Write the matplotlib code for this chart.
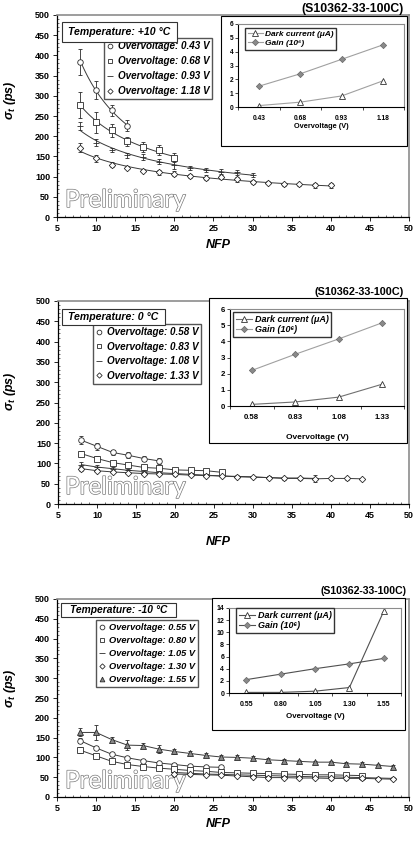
import numpy as np
import matplotlib.pyplot as plt
import matplotlib.patheffects as pe
from matplotlib.patches import Rectangle
from matplotlib.lines import Line2D
from matplotlib.ticker import MultipleLocator

plt.rcParams['font.family'] = ['Liberation Sans', 'DejaVu Sans']
plt.rcParams['mathtext.fontset'] = 'custom'
plt.rcParams['mathtext.it'] = 'Liberation Sans:italic:bold'
plt.rcParams['mathtext.rm'] = 'Liberation Sans:bold'

W, H = 415, 842   # figure size in pixels

# ---------------- +10 C ----------------
nfp_p10_043 = np.arange(8, 16, 2)
sig_p10_043 = [384, 314, 264, 226]
err_p10_043 = [32, 22, 14, 13]
nfp_p10_068 = np.arange(8, 22, 2)
sig_p10_068 = [277, 234, 215, 187, 173, 165, 147]
err_p10_068 = [32, 25, 16, 12, 13, 12, 12]
nfp_p10_093 = np.arange(8, 32, 2)
sig_p10_093 = [226, 184, 166, 153, 149, 137, 128, 121, 117, 112, 111, 104]
err_p10_093 = [10, 8, 6, 6, 8, 6, 10, 5, 5, 6, 6, 6]
nfp_p10_118 = np.arange(8, 42, 2)
sig_p10_118 = [172, 145, 129, 122, 115, 111, 107, 102, 97, 98, 93, 87, 85, 81, 81, 78, 78]
err_p10_118 = [10, 8, 6, 4, 4, 6, 6, 5, 6, 5, 6, 5, 4, 4, 4, 5, 6]
ov_p10 = ['0.43', '0.68', '0.93', '1.18']
dark_p10 = [0.1, 0.35, 0.8, 1.9]
gain_p10 = [1.5, 2.4, 3.45, 4.5]

# ---------------- 0 C ----------------
nfp_0_058 = np.arange(8, 20, 2)
sig_0_058 = [157, 142, 127, 120, 112, 106]
err_0_058 = [10, 9, 7, 7, 7, 7]
nfp_0_083 = np.arange(8, 28, 2)
sig_0_083 = [124, 112, 102, 96, 90, 88, 84, 83, 82, 78]
err_0_083 = [6, 5, 5, 4, 4, 5, 4, 4, 4, 4]
nfp_0_108 = np.arange(8, 40, 2)
sig_0_108 = [97, 91, 87, 83, 80, 77, 75, 73, 71, 69, 68, 67, 65, 64, 64, 63]
err_0_108 = [7, 5, 4, 4, 4, 3, 3, 3, 3, 3, 3, 3, 3, 3, 3, 8]
nfp_0_133 = np.arange(8, 46, 2)
sig_0_133 = [87, 82, 79, 77, 75, 74, 73, 71, 70, 69, 67, 66, 65, 63, 63, 62, 63, 63, 62]
err_0_133 = [6, 4, 3, 3, 3, 3, 3, 3, 3, 3, 3, 3, 3, 3, 3, 3, 3, 3, 3]
ov_0 = ['0.58', '0.83', '1.08', '1.33']
dark_0 = [0.1, 0.25, 0.55, 1.35]
gain_0 = [2.2, 3.2, 4.15, 5.15]

# ---------------- -10 C ----------------
nfp_m10_055 = np.arange(8, 28, 2)
sig_m10_055 = [142, 124, 108, 99, 92, 86, 82, 78, 76, 75]
err_m10_055 = [6, 4, 3, 3, 3, 3, 3, 3, 3, 3]
nfp_m10_080 = np.arange(8, 46, 2)
sig_m10_080 = [118, 104, 90, 82, 77, 73, 70, 67, 65, 62, 61, 60, 59, 58, 57, 56, 56, 55, 54]
err_m10_080 = [8, 4, 3, 3, 3, 3, 3, 3, 3, 3, 3, 3, 3, 3, 3, 3, 3, 3, 3]
nfp_m10_105 = np.arange(20, 50, 2)
sig_m10_105 = [62, 60, 58, 57, 56, 55, 54, 53, 52, 51, 51, 50, 49, 48, 47]
err_m10_105 = [8, 3, 3, 3, 3, 3, 3, 3, 3, 3, 3, 3, 3, 3, 3]
nfp_m10_130 = np.arange(20, 50, 2)
sig_m10_130 = [58, 57, 56, 55, 53, 51, 49, 49, 48, 48, 47, 47, 47, 46, 45]
err_m10_130 = [3, 3, 3, 3, 3, 3, 3, 3, 3, 3, 3, 3, 3, 3, 3]
nfp_m10_155 = np.arange(8, 50, 2)
sig_m10_155 = [163, 163, 145, 131, 130, 121, 115, 110, 105, 101, 100, 98, 94, 92, 90, 88, 88, 84, 83, 80, 77]
err_m10_155 = [10, 18, 6, 12, 6, 10, 6, 5, 5, 5, 5, 5, 4, 4, 4, 4, 4, 5, 5, 4, 4]
ov_m10 = ['0.55', '0.80', '1.05', '1.30', '1.55']
dark_m10 = [0.1, 0.1, 0.3, 0.9, 13.5]
gain_m10 = [2.2, 3.1, 4.0, 4.8, 5.7]


fig = plt.figure(figsize=(W / 100, H / 100), dpi=100)


def px_box(l, t, r, b):
    return [l / W, 1 - b / H, (r - l) / W, (b - t) / H]


def main_axes(l, t, r, b):
    ax = fig.add_axes(px_box(l, t, r, b))
    ax.set_xlim(5, 50)
    ax.set_ylim(0, 500)
    ax.set_xticks(range(5, 55, 5))
    ax.set_yticks(range(0, 550, 50))
    ax.xaxis.set_minor_locator(MultipleLocator(1))
    ax.yaxis.set_minor_locator(MultipleLocator(10))
    ax.tick_params(which='major', labelsize=6.5, length=3, width=0.6, pad=2)
    ax.tick_params(which='minor', length=1.5, width=0.4, direction='in')
    for lab in ax.get_xticklabels() + ax.get_yticklabels():
        lab.set_fontweight('bold')
    ax.spines['left'].set_linewidth(0.9)
    ax.spines['bottom'].set_linewidth(0.9)
    for s in ['top', 'right']:
        ax.spines[s].set_color('#8c8c8c')
        ax.spines[s].set_linewidth(1.2)
    return ax


MS = {'o': 4, 's': 4, '_': 5, 'D': 3.3, '^': 4}


def series(ax, x, y, e, m, fit=False, fc='white'):
    if fit:
        b, a = np.polyfit(np.log(x), np.log(y), 1)
        xf = np.linspace(x[0], x[-1], 100)
        ax.plot(xf, np.exp(a) * xf ** b, color='#3a3a3a', lw=0.7, zorder=2)
    else:
        ax.plot(x, y, color='#3a3a3a', lw=0.7, zorder=2)
    ax.errorbar(x, y, yerr=e, fmt=m, ms=MS[m], mfc=fc, mec='#2a2a2a', mew=0.6,
                ecolor='#2a2a2a', elinewidth=0.6, capsize=1.5, capthick=0.6,
                zorder=3)


def legend_main(ax, labels, markers, x, y, fs, sp):
    hs = [Line2D([], [], ls='none', marker=m, ms=MS[m] - 0.6,
                 mfc='#888888' if m == '^' else 'white', mec='#2a2a2a', mew=0.6)
          for m in markers]
    ax.legend(hs, ['Overvoltage: %s V' % l for l in labels], loc='upper left',
              bbox_to_anchor=(x / W, 1 - y / H), bbox_transform=fig.transFigure,
              fancybox=False, edgecolor='#555555', framealpha=1, borderaxespad=0,
              prop={'weight': 'bold', 'style': 'italic', 'size': fs},
              handlelength=0.7, handletextpad=0.4, labelspacing=sp,
              borderpad=0.3)


def temp_box(l, t, r, b, text, fs):
    fig.add_artist(Rectangle((l / W, 1 - b / H), (r - l) / W, (b - t) / H,
                             transform=fig.transFigure, fc='white',
                             ec='#333333', lw=0.8, zorder=2))
    fig.text((l + r) / 2 / W, 1 - (t + b) / 2 / H, text, ha='center',
             va='center', fontsize=fs, fontweight='bold', fontstyle='italic',
             zorder=3)


def prelim(ax, x, y):
    ax.text(x / W, 1 - y / H, 'Preliminary', transform=fig.transFigure,
            family='Lato', fontsize=17.5, color='white', va='baseline',
            zorder=1, path_effects=[pe.withStroke(linewidth=1.0,
                                                  foreground='#7a7a7a')])


def axis_labels(ynfp, ysig):
    fig.text(218 / W, 1 - ynfp / H, 'NFP', ha='center', va='center',
             fontsize=9, fontweight='bold', fontstyle='italic')
    fig.text(10 / W, 1 - ysig / H, r'$\sigma_t$ (ps)', ha='center',
             va='center', rotation=90, fontsize=9, fontweight='bold',
             fontstyle='italic')


def inset(outer, inner, labels, dark, gain, ymax, ystep, col_d, col_g,
          fs_tick, fs_lab, ylab, leg_xy, fs_leg):
    l, t, r, b = outer
    fig.add_artist(Rectangle((l / W, 1 - b / H), (r - l) / W, (b - t) / H,
                             transform=fig.transFigure, fc='white',
                             ec='black', lw=0.8, zorder=1))
    ax = fig.add_axes(px_box(*inner))
    ax.set_zorder(2)
    n = len(labels)
    xs = np.arange(n)
    ax.plot(xs, dark, color=col_d, lw=0.8, marker='^', ms=4, mfc='white',
            mec='#333333', mew=0.6, label='Dark current (\u03bcA)')
    ax.plot(xs, gain, color=col_g, lw=0.8, marker='D', ms=3.2, mfc='#8a8a8a',
            mec='#666666', mew=0.5, label='Gain (10\u2076)')
    ax.set_xlim(-0.5, n - 0.5)
    ax.set_ylim(0, ymax)
    ax.set_yticks(np.arange(0, ymax + 0.1, ystep))
    ax.set_xticks(xs)
    ax.set_xticklabels(labels)
    ax.set_xticks(np.arange(-0.5, n), minor=True)
    ax.tick_params(axis='x', which='major', length=0, pad=6)
    ax.tick_params(axis='x', which='minor', length=2, width=0.5)
    ax.tick_params(axis='y', length=2, width=0.5, pad=1.5)
    ax.tick_params(labelsize=fs_tick)
    for lab in ax.get_xticklabels() + ax.get_yticklabels():
        lab.set_fontweight('bold')
    for s in ['top', 'right']:
        ax.spines[s].set_color('#8c8c8c')
    for s in ['left', 'bottom']:
        ax.spines[s].set_linewidth(0.8)
    fig.text((inner[0] + inner[2]) / 2 / W, 1 - ylab / H, 'Overvoltage (V)',
             ha='center', va='center', fontsize=fs_lab, fontweight='bold')
    ax.legend(loc='upper left', bbox_to_anchor=(leg_xy[0] / W, 1 - leg_xy[1] / H),
              bbox_transform=fig.transFigure, fancybox=False, edgecolor='#333333',
              framealpha=1, borderaxespad=0, handlelength=1.8, handletextpad=0.3,
              labelspacing=0.15, borderpad=0.3,
              prop={'weight': 'bold', 'style': 'italic', 'size': fs_leg})
    return ax


# ---------- panel 1 : +10 C ----------
ax1 = main_axes(57, 15, 409, 217)
series(ax1, nfp_p10_043, sig_p10_043, err_p10_043, 'o', fit=True)
series(ax1, nfp_p10_068, sig_p10_068, err_p10_068, 's', fit=True)
series(ax1, nfp_p10_093, sig_p10_093, err_p10_093, '_', fit=True)
series(ax1, nfp_p10_118, sig_p10_118, err_p10_118, 'D', fit=True)
prelim(ax1, 65, 207)
legend_main(ax1, ov_p10, ['o', 's', '_', 'D'], 104, 38, 7.1, 0.51)
temp_box(62, 22, 177, 42, 'Temperature: +10 \u00b0C', 7.6)
axis_labels(245, 100)
fig.text(404 / W, 1 - 9 / H, '(S10362-33-100C)', ha='right', va='center',
         fontsize=8.8, fontweight='bold')
inset((221, 16, 407, 146), (238, 24, 404, 107), ov_p10, dark_p10, gain_p10,
      6, 1, '#a0a0a0', '#a0a0a0', 4.8, 5.3, 127, (245, 28), 6)

# ---------- panel 2 : 0 C ----------
ax2 = main_axes(58, 301, 409, 504)
series(ax2, nfp_0_058, sig_0_058, err_0_058, 'o')
series(ax2, nfp_0_083, sig_0_083, err_0_083, 's')
series(ax2, nfp_0_108, sig_0_108, err_0_108, '_')
series(ax2, nfp_0_133, sig_0_133, err_0_133, 'D')
prelim(ax2, 65, 494)
legend_main(ax2, ov_0, ['o', 's', '_', 'D'], 93, 324, 7.1, 0.47)
temp_box(62, 309, 165, 325, 'Temperature: 0 \u00b0C', 7.6)
axis_labels(542, 391)
fig.text(404 / W, 1 - 292 / H, '(S10362-33-100C)', ha='right', va='center',
         fontsize=7.8, fontweight='bold')
inset((209, 298, 407, 443), (230, 309, 404, 406), ov_0, dark_0, gain_0,
      6, 1, '#707070', '#a0a0a0', 5.6, 6, 438, (233, 312), 6.5)

# ---------- panel 3 : -10 C ----------
ax3 = main_axes(57, 599, 409, 797)
series(ax3, nfp_m10_055, sig_m10_055, err_m10_055, 'o')
series(ax3, nfp_m10_080, sig_m10_080, err_m10_080, 's')
series(ax3, nfp_m10_105, sig_m10_105, err_m10_105, '_')
series(ax3, nfp_m10_130, sig_m10_130, err_m10_130, 'D')
series(ax3, nfp_m10_155, sig_m10_155, err_m10_155, '^', fc='#888888')
prelim(ax3, 65, 788)
legend_main(ax3, ov_m10, ['o', 's', '_', 'D', '^'], 96, 620, 6.7, 0.43)
temp_box(61, 603, 176, 617, 'Temperature: -10 \u00b0C', 7.4)
axis_labels(824, 688)
fig.text(406 / W, 1 - 591 / H, '(S10362-33-100C)', ha='right', va='center',
         fontsize=7.6, fontweight='bold')
inset((212, 598, 405, 730), (229, 608, 401, 693), ov_m10, dark_m10, gain_m10,
      14, 2, '#505050', '#505050', 5, 5.7, 716, (236, 608), 6.5)

fig.savefig('out.png', dpi=100)
